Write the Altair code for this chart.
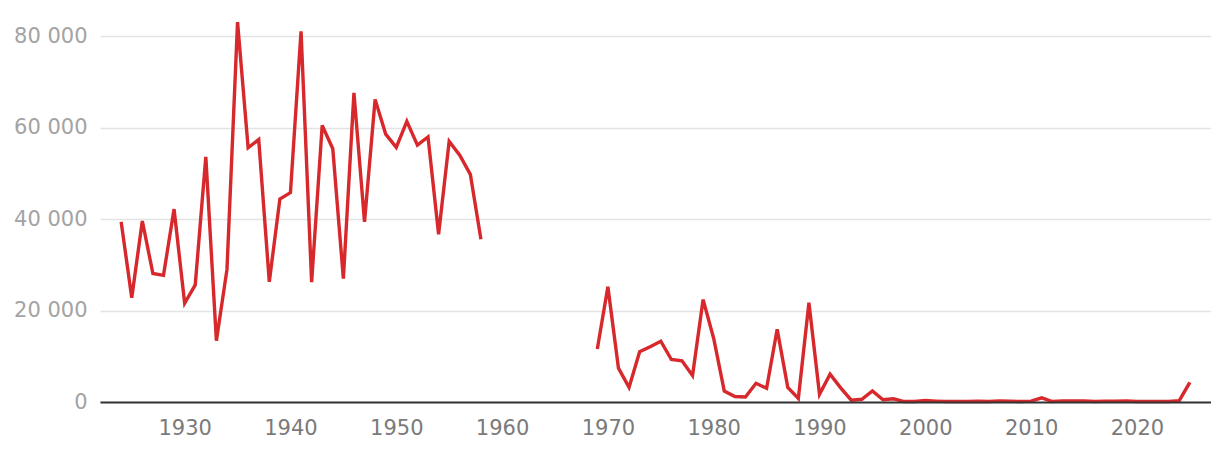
import altair as alt
import pandas as pd

years_a = list(range(1924, 1959))
values_a = [39400, 22800, 39600, 28100, 27700, 42200, 21600, 25600, 53600, 13400,
            29000, 83100, 55600, 57400, 26300, 44400, 45800, 81100, 26200, 60500,
            55400, 27000, 67600, 39400, 66200, 58600, 55700, 61400, 56200, 58000,
            36700, 57000, 54000, 49800, 35600]

years_b = list(range(1969, 2026))
values_b = [11600, 25200, 7400, 3200, 11000, 12100, 13300, 9300, 9000, 5800,
            22400, 13900, 2400, 1200, 1100, 4100, 3000, 15900, 3200, 800,
            21700, 1700, 6100, 3100, 400, 600, 2400, 500, 700, 100,
            100, 350, 200, 100, 100, 100, 150, 100, 250, 200,
            100, 200, 900, 100, 250, 250, 250, 100, 200, 200,
            250, 100, 100, 100, 100, 300, 4300]

x_ticks = [1930, 1940, 1950, 1960, 1970, 1980, 1990, 2000, 2010, 2020]
y_ticks = [0, 20000, 40000, 60000, 80000]

df = pd.DataFrame({
    "year": years_a + years_b,
    "value": values_a + values_b,
    "segment": ["a"] * len(years_a) + ["b"] * len(years_b),
})

FONT = "DejaVu Sans"

chart = alt.Chart(df).mark_line(color="#d7282c", strokeWidth=3.4, strokeJoin="miter").encode(
    x=alt.X("year:Q",
            scale=alt.Scale(domain=[1922, 2027], nice=False, zero=False),
            axis=alt.Axis(values=x_ticks, format="d", title=None, grid=False,
                          ticks=False, tickSize=0, domain=True, domainColor="#333333",
                          domainWidth=2, labelFont=FONT, labelFontSize=21,
                          labelColor="#7a7a7a", labelPadding=15, labelFlush=False,
                          zindex=1)),
    y=alt.Y("value:Q",
            scale=alt.Scale(domain=[0, 84000], nice=False),
            axis=alt.Axis(values=y_ticks, title=None, grid=True, gridColor="#e3e3e3",
                          gridWidth=1.5, ticks=False, tickSize=0, domain=False,
                          labelFont=FONT, labelFontSize=21, labelColor="#a3a3a3",
                          labelPadding=13, zindex=0,
                          labelExpr="datum.value == 0 ? '0' : format(datum.value / 1000, 'd') + ' 000'")),
    detail="segment:N",
).properties(
    width=1111, height=384,
    background="white",
    autosize=alt.AutoSizeParams(type="none"),
    padding={"left": 92, "top": 10, "right": 0, "bottom": 40},
).configure_view(strokeWidth=0, stroke="transparent")

chart.save("out.html", embed_options={"renderer": "svg", "actions": False})
